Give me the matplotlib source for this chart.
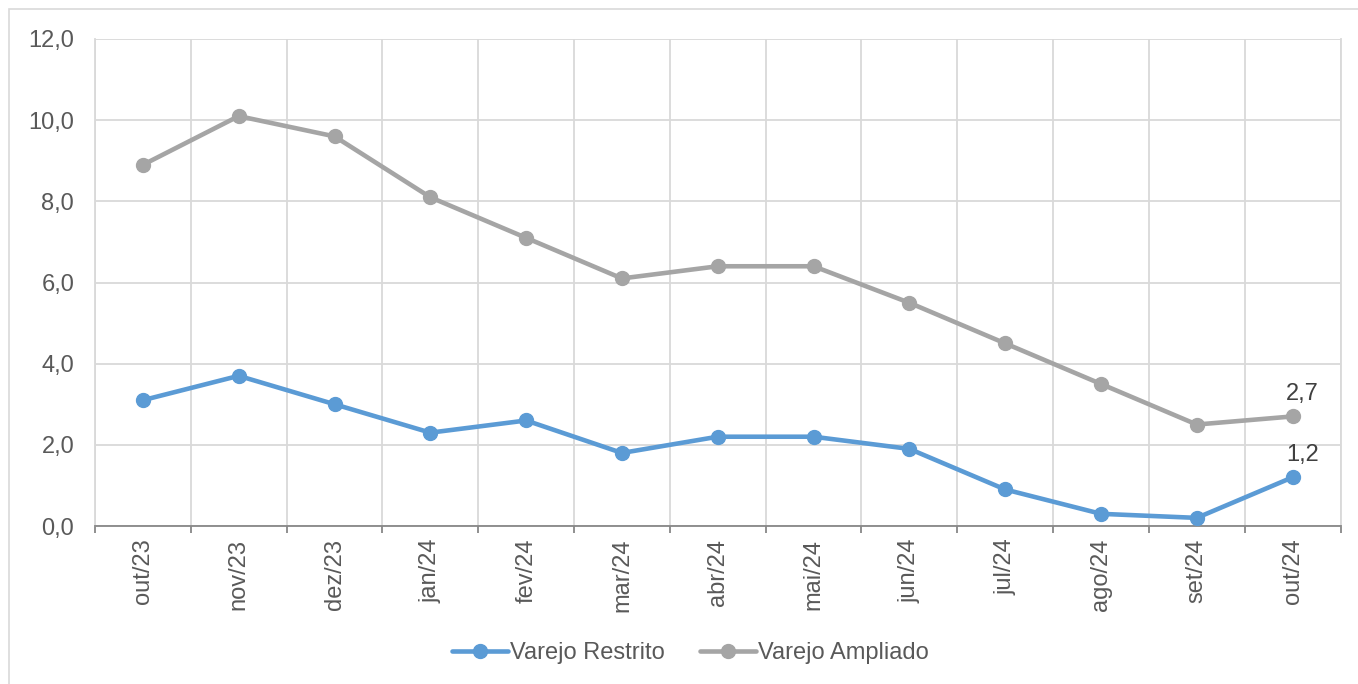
import matplotlib
matplotlib.use("Agg")
import matplotlib.pyplot as plt
from matplotlib.patches import Rectangle
from matplotlib.ticker import FuncFormatter
import numpy as np

categories = ["out/23", "nov/23", "dez/23", "jan/24", "fev/24", "mar/24", "abr/24",
              "mai/24", "jun/24", "jul/24", "ago/24", "set/24", "out/24"]
varejo_restrito = [3.1, 3.7, 3.0, 2.3, 2.6, 1.8, 2.2, 2.2, 1.9, 0.9, 0.3, 0.2, 1.2]
varejo_ampliado = [8.9, 10.1, 9.6, 8.1, 7.1, 6.1, 6.4, 6.4, 5.5, 4.5, 3.5, 2.5, 2.7]
y_ticks = [0, 2, 4, 6, 8, 10, 12]

plt.rcParams['font.family'] = ['Liberation Sans', 'DejaVu Sans']
TXT = "#595959"
FS = 17

W, H = 1358, 684
fig = plt.figure(figsize=(W / 100, H / 100), dpi=100)
# outer border
fig.patches.append(Rectangle((9 / W, -0.05), 1.2, 1 - 9 / H + 0.05, transform=fig.transFigure,
                             fill=False, edgecolor="#D9D9D9", linewidth=1.2, zorder=0))

ax = fig.add_axes([95 / W, 1 - 526 / H, (1340.5 - 95) / W, (526 - 39) / H])
x = np.arange(len(categories))

ax.plot(x, varejo_restrito, color="#5B9BD5", linewidth=3.3, marker="o", markersize=10,
        label="Varejo Restrito", zorder=4, solid_capstyle="round")
ax.plot(x, varejo_ampliado, color="#A5A5A5", linewidth=3.3, marker="o", markersize=10,
        label="Varejo Ampliado", zorder=3, solid_capstyle="round")

ax.set_xlim(-0.5, len(categories) - 0.5)
ax.set_ylim(0, 12)
ax.set_yticks(y_ticks)
ax.yaxis.set_major_formatter(FuncFormatter(lambda v, p: f"{v:.1f}".replace(".", ",")))
ax.tick_params(axis="y", length=0, pad=15, labelsize=FS, labelcolor=TXT)

ax.set_xticks(x)
ax.set_xticklabels(categories, rotation=90)
ax.set_xticks(np.arange(-0.5, len(categories), 1), minor=True)
ax.tick_params(axis="x", which="major", length=0, pad=9, labelsize=FS, labelcolor=TXT)
ax.tick_params(axis="x", which="minor", length=5, width=1.3, color="#878787", direction="out")

ax.grid(axis="y", which="major", color="#D9D9D9", linewidth=1.3)
ax.grid(axis="x", which="minor", color="#D9D9D9", linewidth=1.3)
ax.set_axisbelow(True)

for s in ["right", "left"]:
    ax.spines[s].set_color("#D9D9D9")
    ax.spines[s].set_linewidth(1.3)
ax.spines["bottom"].set_color("#878787")
ax.spines["bottom"].set_linewidth(1.3)
ax.spines["top"].set_visible(False)

# data labels on last point
last = len(categories) - 1
for vals in (varejo_ampliado, varejo_restrito):
    ax.annotate(f"{vals[last]:.1f}".replace(".", ","), (x[last], vals[last]),
                xytext=(7, 16), textcoords="offset points", ha="center", va="center",
                fontsize=FS, color="#404040", zorder=5)

fig.legend(loc="center", bbox_to_anchor=(690 / W, 1 - 653 / H), ncol=2, frameon=False,
           fontsize=FS, labelcolor=TXT, handlelength=2.4, handletextpad=0.05, columnspacing=1.5)

fig.savefig("out.png", dpi=100)
